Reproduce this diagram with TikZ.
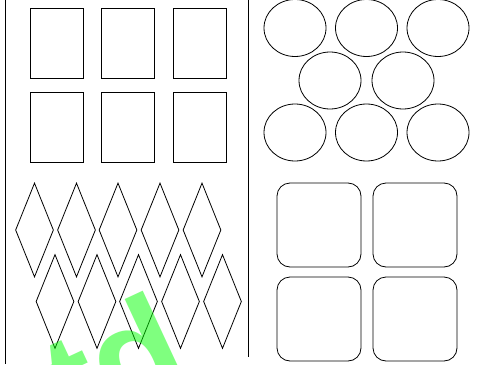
\documentclass[tikz,border=0pt]{standalone}
\usepackage{fontspec}
\usetikzlibrary{shapes.geometric}
\newfontfamily\markfont{Liberation Sans}

\tikzset{
  cell/.style={draw, line width=0.8pt, inner sep=0pt},
  card/.style={cell, rectangle, minimum width=53, minimum height=70},
  ball/.style={cell, ellipse, minimum width=62, minimum height=57},
  gem/.style={cell, diamond, minimum width=38, minimum height=94},
  tile/.style={cell, rectangle, rounded corners=13pt, minimum width=84, minimum height=84},
}

\begin{document}
\begin{tikzpicture}[x=1pt, y=-1pt]
  \useasboundingbox (0, 0) rectangle (479, 364);
  \clip (0, 0) rectangle (479, 364);

  % separators
  \coordinate (L1) at (5, 0);
  \coordinate (L2) at (5, 364);
  \coordinate (M1) at (248, 0);
  \coordinate (M2) at (248, 357);
  \draw[line width=1pt] (L1) -- (L2);
  \draw[line width=1pt] (M1) -- (M2);

  % rectangles
  \foreach \i/\x in {1/56.5, 2/127.5, 3/199.5} {
    \node[card] (r1\i) at (\x, 43) {};
    \node[card] (r2\i) at (\x, 127.5) {};
  }

  % ellipses
  \foreach \i/\x in {1/295, 2/366.5, 3/438} {
    \node[ball] (e1\i) at (\x, 28) {};
    \node[ball] (e3\i) at (\x, 132.5) {};
  }
  \node[ball] (e21) at (330, 80.5) {};
  \node[ball] (e22) at (403, 80.5) {};

  % diamonds
  \foreach \i/\x in {1/34.5, 2/76.5, 3/118, 4/160, 5/202} {
    \node[gem] (d1\i) at (\x, 230) {};
    \node[gem] (d2\i) at (\x+20.5, 301.5) {};
  }

  % rounded squares
  \node[tile] (s11) at (319, 225) {};
  \node[tile] (s12) at (415, 225) {};
  \node[tile] (s21) at (319, 319) {};
  \node[tile] (s22) at (415, 319) {};

  % mark
  \node[anchor=base west, rotate=25, inner sep=0pt, text=green, text opacity=0.5,
        font=\markfont\bfseries\fontsize{145}{145}\selectfont] (mark) at (73, 440) {td};
\end{tikzpicture}
\end{document}
